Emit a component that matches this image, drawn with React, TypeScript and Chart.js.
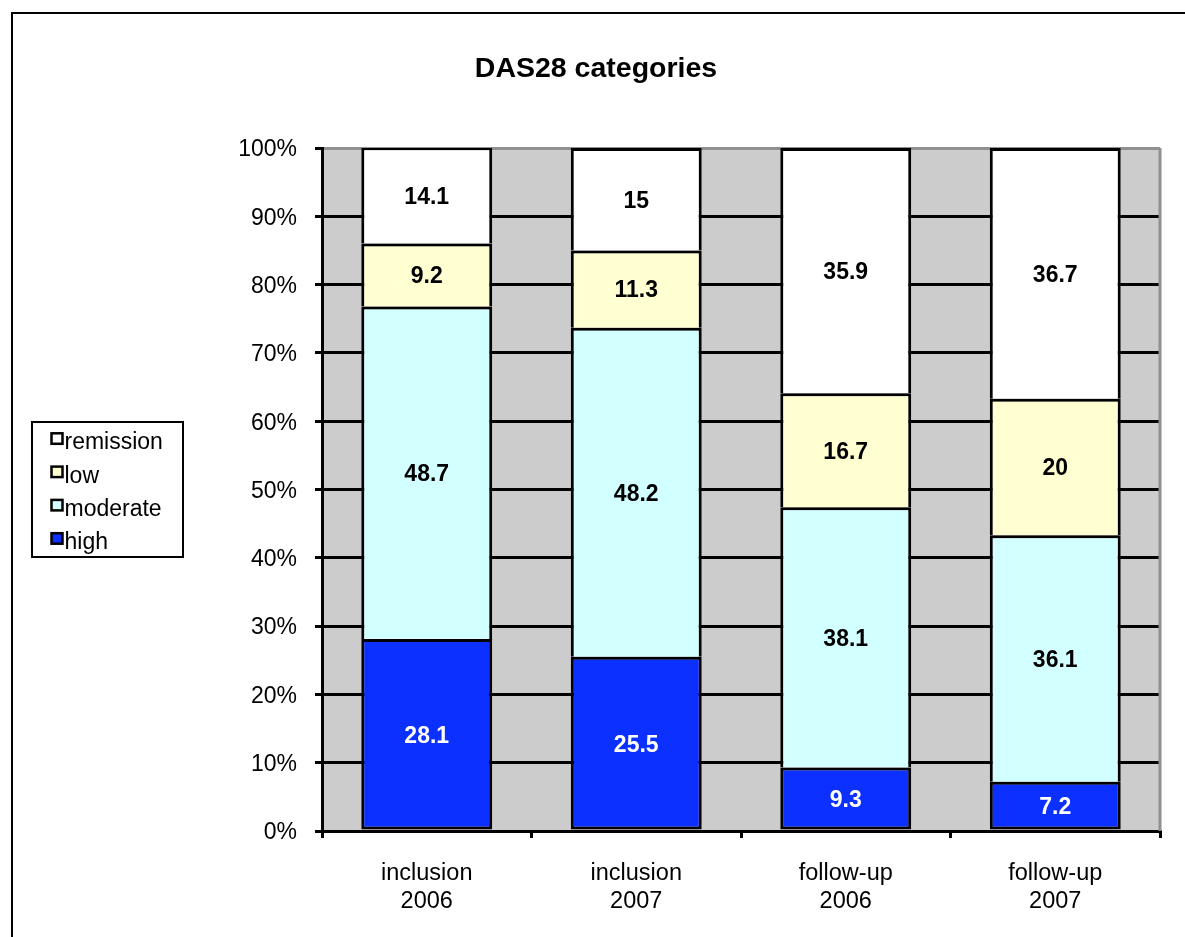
import React, { useEffect, useRef } from "react";
import { Chart, registerables } from "chart.js";

Chart.register(...registerables);

const categories: string[][] = [
  ["inclusion", "2006"],
  ["inclusion", "2007"],
  ["follow-up", "2006"],
  ["follow-up", "2007"],
];
const high = [28.1, 25.5, 9.3, 7.2];
const moderate = [48.7, 48.2, 38.1, 36.1];
const low = [9.2, 11.3, 16.7, 20];
const remission = [14.1, 15, 35.9, 36.7];
const seriesNames = ["high", "moderate", "low", "remission"];
const seriesColors = ["#0B30FF", "#D2FFFF", "#FFFFD2", "#FFFFFF"];
const labelColors = ["#FFFFFF", "#000000", "#000000", "#000000"];
const titleText = "DAS28 categories";

const FONT = "'Liberation Sans', Arial, sans-serif";

export default function App() {
  const ref = useRef<HTMLCanvasElement | null>(null);

  useEffect(() => {
    if (!ref.current) return;
    const seriesData = [high, moderate, low, remission];

    const decorPlugin = {
      id: "decor",
      beforeDraw(chart: any) {
        const { ctx, chartArea } = chart;
        ctx.save();
        ctx.fillStyle = "#FFFFFF";
        ctx.fillRect(0, 0, chart.width, chart.height);
        ctx.fillStyle = "#CCCCCC";
        ctx.fillRect(chartArea.left, chartArea.top, chartArea.right - chartArea.left, chartArea.bottom - chartArea.top);
        ctx.restore();
      },
      afterDatasetsDraw(chart: any) {
        const { ctx } = chart;
        ctx.save();
        ctx.font = `bold 23px ${FONT}`;
        ctx.textAlign = "center";
        ctx.textBaseline = "middle";
        chart.data.datasets.forEach((ds: any, di: number) => {
          const meta = chart.getDatasetMeta(di);
          meta.data.forEach((el: any, i: number) => {
            const top = Math.min(el.y, el.base);
            const bottom = Math.max(el.y, el.base);
            ctx.fillStyle = labelColors[di];
            ctx.fillText(String(ds.data[i]), el.x, (top + bottom) / 2 + 2);
          });
        });
        ctx.restore();
      },
      afterDraw(chart: any) {
        const { ctx, chartArea } = chart;
        ctx.save();
        // plot right edge
        ctx.strokeStyle = "#909090";
        ctx.lineWidth = 3;
        ctx.beginPath();
        ctx.moveTo(chartArea.right, chartArea.top);
        ctx.lineTo(chartArea.right, chartArea.bottom);
        ctx.stroke();
        // outer border
        ctx.strokeStyle = "#000000";
        ctx.lineWidth = 2;
        ctx.strokeRect(12, 13, 1400, 1400);
        // title
        ctx.fillStyle = "#000000";
        ctx.font = `bold 28.5px ${FONT}`;
        ctx.textAlign = "center";
        ctx.textBaseline = "alphabetic";
        ctx.fillText(titleText, 596, 77);
        // legend
        ctx.lineWidth = 2;
        ctx.strokeRect(32, 422, 151, 135);
        ctx.font = `23px ${FONT}`;
        ctx.textAlign = "left";
        for (let k = 0; k < 4; k++) {
          const di = 3 - k;
          const base = 449.3 + k * 33.3;
          ctx.fillStyle = seriesColors[di];
          ctx.fillRect(51.5, base - 16, 11, 10.5);
          ctx.strokeStyle = "#000000";
          ctx.lineWidth = 2.5;
          ctx.strokeRect(51.5, base - 16, 11, 10.5);
          ctx.fillStyle = "#000000";
          ctx.fillText(seriesNames[di], 64.5, base);
        }
        ctx.restore();
      },
    };

    const chart = new Chart(ref.current, {
      type: "bar",
      data: {
        labels: categories,
        datasets: seriesData.map((d, i) => ({
          label: seriesNames[i],
          data: d,
          backgroundColor: seriesColors[i],
          borderColor: "#000000",
          borderWidth: 3,
          borderSkipped: i === 0 ? false : "start",
          categoryPercentage: 1,
          barPercentage: 0.625,
        })),
      },
      options: {
        animation: false,
        responsive: false,
        maintainAspectRatio: false,
        layout: { padding: { left: 0, top: 148, right: 25, bottom: 0 } },
        plugins: {
          legend: { display: false },
          title: { display: false },
          tooltip: { enabled: false },
        },
        scales: {
          x: {
            stacked: true,
            z: 1,
            afterFit(scale: any) {
              scale.height = 106;
            },
            grid: {
              offset: true,
              drawOnChartArea: false,
              color: "#000000",
              lineWidth: 3,
              tickLength: 7,
            },
            border: { color: "#000000", width: 3 },
            ticks: {
              color: "#000000",
              padding: 21,
              maxRotation: 0,
              font: { family: FONT, size: 23.5, lineHeight: 1.2 },
            },
          },
          y: {
            stacked: true,
            min: 0,
            max: 100,
            afterFit(scale: any) {
              scale.width = 322;
            },
            grid: {
              color: (c: any) => (c.tick && c.tick.value === 100 ? "#909090" : "#000000"),
              tickColor: "#000000",
              lineWidth: 3,
              tickLength: 7,
            },
            border: { color: "#000000", width: 3 },
            ticks: {
              stepSize: 10,
              color: "#000000",
              padding: 18,
              labelOffset: 2,
              font: { family: FONT, size: 23 },
              callback: (v: any) => `${v}%`,
            },
          },
        },
      },
      plugins: [decorPlugin],
    } as any);

    return () => chart.destroy();
  }, []);

  return (
    <div style={{ position: "fixed", left: 0, top: 0, width: 1185, height: 937, background: "#fff" }}>
      <canvas ref={ref} width={1185} height={937} style={{ width: 1185, height: 937, display: "block" }} />
    </div>
  );
}
